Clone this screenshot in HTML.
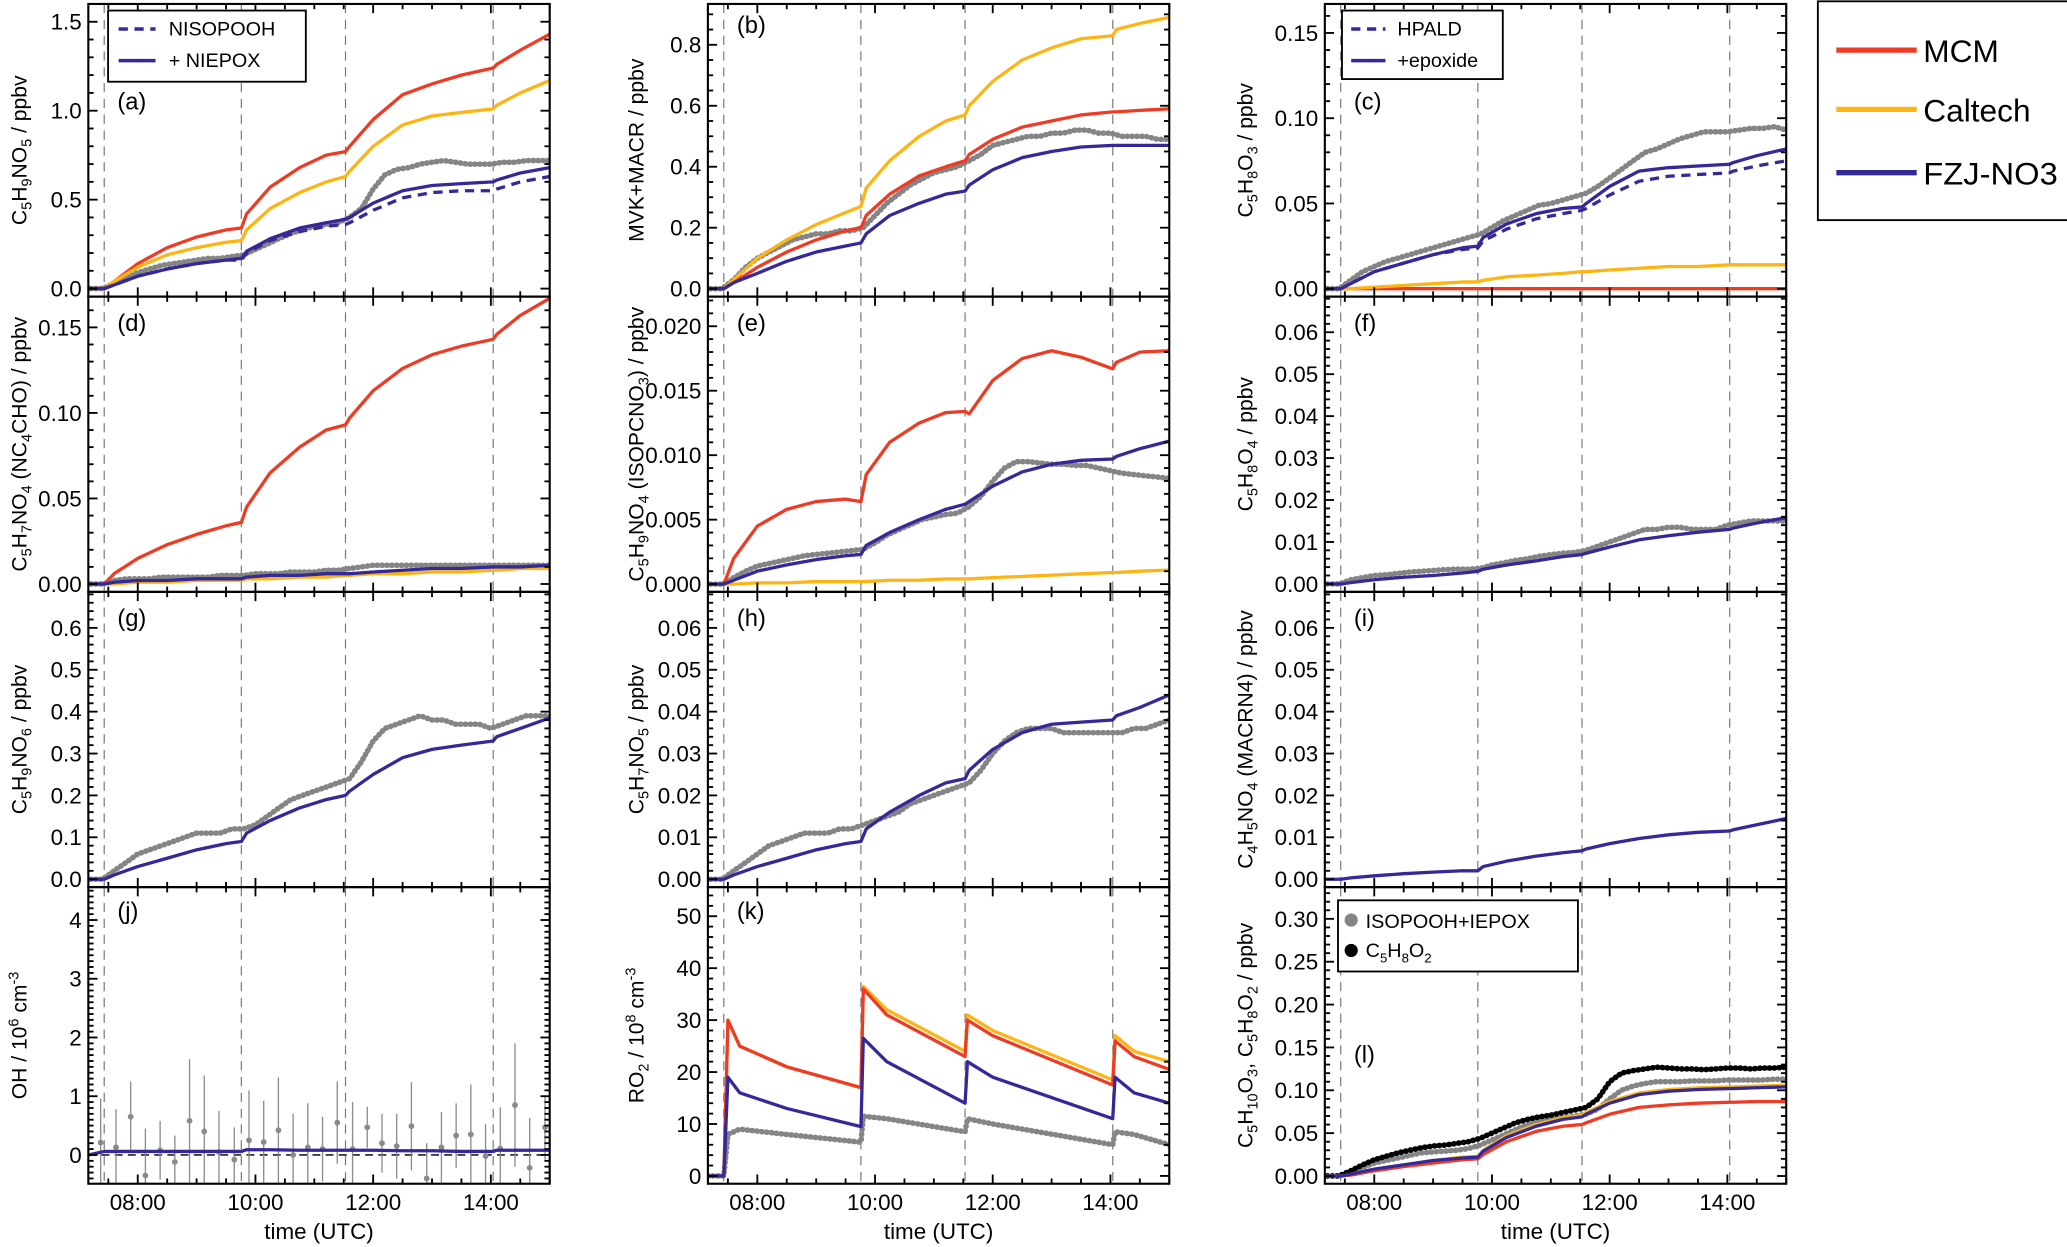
<!DOCTYPE html>
<html><head><meta charset="utf-8"><style>
html,body{margin:0;padding:0;background:#fff;}
svg{display:block;font-family:"Liberation Sans",sans-serif;}
</style></head><body>
<svg id="fig" width="2067" height="1247" viewBox="0 0 1568 946" preserveAspectRatio="none" xmlns="http://www.w3.org/2000/svg"></svg>
<script>
// ---- data ----
const T_MODEL=[7.16,7.43,7.6,8.0,8.5,9.0,9.5,9.76,9.85,10.25,10.75,11.2,11.53,11.6,12.0,12.5,13.0,13.5,14.04,14.1,14.5,15.0];
const OBS_T=[7.2,7.4,7.6,7.8,8.0,8.2,8.4,8.6,8.8,9.0,9.2,9.4,9.6,9.8,10.0,10.2,10.4,10.6,10.8,11.0,11.2,11.4,11.6,11.8,12.0,12.2,12.4,12.6,12.8,13.0,13.2,13.4,13.6,13.8,14.0,14.2,14.4,14.6,14.8,15.0];
const a_mcm=[0,0,0.04,0.14,0.23,0.29,0.33,0.34,0.42,0.57,0.68,0.75,0.77,0.80,0.95,1.09,1.15,1.20,1.24,1.26,1.34,1.43];
const a_cal=[0,0,0.04,0.12,0.19,0.23,0.26,0.27,0.33,0.45,0.54,0.60,0.63,0.66,0.80,0.92,0.97,0.99,1.01,1.03,1.10,1.17];
const a_fzj=[0,0,0.02,0.07,0.11,0.14,0.16,0.17,0.21,0.28,0.34,0.37,0.39,0.40,0.48,0.55,0.58,0.59,0.60,0.61,0.65,0.68];
const a_fzjd=[0,0,0.02,0.07,0.11,0.14,0.16,0.16,0.20,0.27,0.32,0.35,0.36,0.37,0.44,0.51,0.54,0.55,0.55,0.56,0.60,0.63];
const a_obs=[0,0,0.03,0.06,0.09,0.11,0.13,0.14,0.15,0.16,0.17,0.17,0.18,0.19,0.22,0.25,0.28,0.31,0.33,0.35,0.36,0.37,0.40,0.45,0.56,0.64,0.67,0.68,0.70,0.71,0.72,0.71,0.70,0.70,0.70,0.71,0.71,0.72,0.72,0.72];
const b_mcm=[0,0,0.02,0.07,0.12,0.16,0.19,0.20,0.24,0.31,0.37,0.40,0.42,0.44,0.49,0.53,0.55,0.57,0.58,0.58,0.585,0.59];
const b_cal=[0,0,0.03,0.10,0.16,0.21,0.25,0.27,0.33,0.42,0.50,0.55,0.57,0.60,0.68,0.75,0.79,0.82,0.83,0.85,0.87,0.89];
const b_fzj=[0,0,0.02,0.05,0.09,0.12,0.14,0.15,0.18,0.24,0.28,0.31,0.32,0.34,0.39,0.43,0.45,0.465,0.47,0.47,0.47,0.47];
const b_obs=[0,0,0.03,0.07,0.10,0.12,0.14,0.16,0.17,0.18,0.18,0.19,0.19,0.20,0.24,0.28,0.31,0.34,0.36,0.38,0.39,0.40,0.42,0.44,0.47,0.48,0.49,0.50,0.50,0.51,0.51,0.52,0.52,0.51,0.51,0.50,0.50,0.50,0.49,0.49];
const c_mcm=[0,0,0,0,0,0,0,0,0,0,0,0,0,0,0,0,0,0,0,0,0,0];
const c_cal=[0,0,0,0.001,0.002,0.003,0.004,0.004,0.005,0.007,0.008,0.009,0.010,0.010,0.011,0.012,0.013,0.013,0.014,0.014,0.014,0.014];
const c_fzj=[0,0,0.003,0.010,0.015,0.020,0.024,0.025,0.030,0.038,0.044,0.047,0.048,0.050,0.060,0.069,0.071,0.072,0.073,0.074,0.078,0.082];
const c_fzjd=[0,0,0.003,0.010,0.015,0.020,0.023,0.024,0.028,0.035,0.041,0.044,0.046,0.047,0.055,0.063,0.066,0.067,0.068,0.069,0.072,0.075];
const c_obs=[0,0,0.005,0.010,0.013,0.016,0.018,0.020,0.022,0.024,0.026,0.028,0.030,0.032,0.036,0.040,0.043,0.046,0.049,0.050,0.052,0.054,0.056,0.060,0.065,0.070,0.075,0.080,0.082,0.085,0.088,0.090,0.092,0.092,0.092,0.093,0.094,0.094,0.095,0.093];
const d_mcm=[0,0,0.006,0.015,0.023,0.029,0.034,0.036,0.045,0.065,0.080,0.090,0.093,0.097,0.113,0.126,0.134,0.139,0.143,0.146,0.157,0.167];
const d_cal=[0,0,0,0.001,0.001,0.002,0.002,0.002,0.003,0.003,0.004,0.004,0.005,0.005,0.006,0.006,0.007,0.007,0.008,0.008,0.009,0.009];
const d_fzj=[0,0,0.001,0.002,0.002,0.003,0.003,0.003,0.004,0.005,0.005,0.006,0.006,0.006,0.007,0.008,0.009,0.009,0.010,0.010,0.010,0.011];
const d_obs=[0,0,0.002,0.003,0.003,0.003,0.004,0.004,0.004,0.004,0.004,0.005,0.005,0.005,0.006,0.006,0.006,0.007,0.007,0.007,0.008,0.008,0.009,0.010,0.011,0.011,0.011,0.011,0.011,0.011,0.011,0.011,0.011,0.011,0.011,0.011,0.011,0.011,0.011,0.011];
const e_mcm=[0,0,0.002,0.0045,0.0058,0.0064,0.0066,0.0064,0.0085,0.0110,0.0125,0.0133,0.0134,0.0132,0.0158,0.0175,0.0181,0.0176,0.0167,0.0172,0.0180,0.0181];
const e_cal=[0,0,0,0.0001,0.0001,0.0002,0.0002,0.0002,0.0002,0.0003,0.0003,0.0004,0.0004,0.0004,0.0005,0.0006,0.0007,0.0008,0.0009,0.0009,0.0010,0.0011];
const e_fzj=[0,0,0.0003,0.0010,0.0015,0.0019,0.0022,0.0023,0.0030,0.0040,0.0050,0.0058,0.0062,0.0064,0.0076,0.0087,0.0093,0.0096,0.0097,0.0099,0.0105,0.0111];
const e_obs=[0,0,0.0005,0.0010,0.0014,0.0016,0.0018,0.0020,0.0022,0.0023,0.0024,0.0025,0.0026,0.0027,0.0032,0.0038,0.0042,0.0046,0.0050,0.0052,0.0054,0.0055,0.0060,0.0068,0.0080,0.0090,0.0095,0.0095,0.0094,0.0093,0.0093,0.0092,0.0092,0.0090,0.0088,0.0086,0.0085,0.0084,0.0083,0.0082];
const f_fzj=[0,0,0.0003,0.001,0.0016,0.002,0.0026,0.003,0.0035,0.0045,0.0055,0.0065,0.007,0.0073,0.0088,0.0105,0.0115,0.0123,0.013,0.0133,0.0145,0.0158];
const f_obs=[0,0,0.001,0.0015,0.002,0.0022,0.0025,0.0028,0.003,0.0032,0.0034,0.0035,0.0035,0.0037,0.0045,0.005,0.0056,0.006,0.0066,0.007,0.0073,0.0075,0.008,0.009,0.010,0.011,0.012,0.013,0.013,0.0135,0.0135,0.013,0.013,0.013,0.014,0.0145,0.015,0.015,0.015,0.015];
const g_fzj=[0,0,0.01,0.03,0.05,0.07,0.085,0.09,0.11,0.14,0.17,0.19,0.20,0.21,0.25,0.29,0.31,0.32,0.33,0.34,0.36,0.385];
const g_obs=[0,0,0.02,0.04,0.06,0.07,0.08,0.09,0.10,0.11,0.11,0.11,0.12,0.12,0.13,0.15,0.17,0.19,0.20,0.21,0.22,0.23,0.24,0.28,0.33,0.36,0.37,0.38,0.39,0.38,0.38,0.37,0.37,0.37,0.36,0.37,0.38,0.39,0.39,0.39];
const h_fzj=[0,0,0.001,0.003,0.005,0.007,0.0085,0.009,0.012,0.016,0.020,0.023,0.024,0.026,0.031,0.035,0.037,0.0375,0.038,0.039,0.041,0.044];
const h_obs=[0,0,0.002,0.004,0.006,0.008,0.009,0.010,0.011,0.011,0.011,0.012,0.012,0.013,0.014,0.015,0.016,0.018,0.019,0.020,0.021,0.022,0.023,0.026,0.030,0.033,0.035,0.036,0.036,0.036,0.035,0.035,0.035,0.035,0.035,0.035,0.036,0.036,0.037,0.038];
const i_fzj=[0,0,0.0003,0.0008,0.0013,0.0017,0.002,0.002,0.003,0.0043,0.0055,0.0063,0.0068,0.0072,0.0085,0.0097,0.0106,0.0112,0.0115,0.0118,0.013,0.0145];
const j_fzj=[0,0.06,0.06,0.06,0.06,0.06,0.06,0.06,0.09,0.09,0.08,0.08,0.08,0.08,0.08,0.07,0.07,0.06,0.06,0.08,0.08,0.08];
const OH_T=[7.37,7.63,7.88,8.13,8.38,8.63,8.88,9.13,9.38,9.64,9.89,10.14,10.39,10.64,10.89,11.14,11.39,11.65,11.90,12.15,12.40,12.65,12.91,13.16,13.41,13.66,13.91,14.16,14.41,14.66,14.92];
const OH_V=[0.21,0.13,0.65,-0.35,0.08,-0.12,0.58,0.40,0.05,-0.08,0.25,0.22,0.42,0.0,0.13,0.10,0.55,0.10,0.47,0.20,0.15,0.49,-0.40,0.13,0.33,0.35,-0.02,0.11,0.85,-0.22,0.47];
const OH_E=[0.75,0.65,0.6,0.8,0.5,0.45,1.05,0.95,0.7,0.55,0.85,0.7,0.9,0.7,0.75,0.55,0.7,0.8,0.35,0.5,0.55,0.75,0.6,0.6,0.55,0.85,0.55,0.7,1.05,0.85,0.55];
const K_T=[7.16,7.43,7.5,7.7,8.5,9.76,9.8,10.2,11.53,11.57,12.0,14.04,14.08,14.4,15.0];
const k_cal=[0,0,30,25,21,17,36.5,32,24,31,28,18.5,27,24,22];
const k_mcm=[0,0,30,25,21,17,36,31,23,30,27,17.5,26,23,20.5];
const k_fzj=[0,0,19,16,13,9.5,26.5,22,14,22,19,11,19,16,14];
const k_obs=[0,0,8,9,8,6.5,11.5,11,8.5,11,10,6,8.5,8,6];
const l_mcm=[0,0,0.001,0.006,0.011,0.015,0.019,0.020,0.025,0.040,0.052,0.058,0.060,0.062,0.072,0.080,0.083,0.085,0.086,0.086,0.087,0.087];
const l_cal=[0,0,0.002,0.008,0.013,0.018,0.022,0.023,0.030,0.047,0.060,0.068,0.071,0.074,0.087,0.097,0.101,0.103,0.104,0.104,0.105,0.106];
const l_fzj=[0,0,0.002,0.008,0.013,0.018,0.021,0.022,0.029,0.045,0.058,0.066,0.069,0.072,0.085,0.095,0.099,0.101,0.102,0.102,0.103,0.104];
const l_obs=[0,0,0.004,0.010,0.015,0.018,0.021,0.024,0.027,0.028,0.029,0.030,0.032,0.036,0.042,0.048,0.054,0.060,0.064,0.066,0.068,0.070,0.072,0.078,0.090,0.100,0.105,0.108,0.110,0.110,0.110,0.111,0.111,0.111,0.112,0.112,0.112,0.112,0.113,0.113];
const l_obs2=[0,0,0.006,0.013,0.019,0.023,0.027,0.030,0.033,0.035,0.036,0.038,0.040,0.044,0.050,0.056,0.062,0.066,0.069,0.071,0.074,0.077,0.080,0.090,0.110,0.120,0.123,0.125,0.127,0.126,0.125,0.125,0.124,0.125,0.126,0.126,0.125,0.126,0.126,0.127];
const X_TICKS=[8,10,12,14];
const X_TICK_LABELS=["08:00","10:00","12:00","14:00"];
const PHASE_LINES=[7.43,9.76,11.53,14.04];

// ---- layout ----
const RED="#ee3b24",ORG="#fcb514",BLU="#35299a",GRY="#858585";
const T0=7.16,T1=15.0;
const COLX=[67,537,1005],ROWY=[3,225,449,673],PW=350,PH=[222,224,224,225];
const svg=document.getElementById('fig');
const NS="http://www.w3.org/2000/svg";
function mk(tag,attrs,parent){const e=document.createElementNS(NS,tag);for(const k in attrs)e.setAttribute(k,attrs[k]);(parent||svg).appendChild(e);return e;}

const panels=[
 {id:'a',c:0,r:0,y0:-0.045,y1:1.6,st:0.5,mn:0.1,dec:1,lab:[80],title:[["C"],["5","s"],["H"],["9","s"],["NO"],["5","s"],[" / ppbv"]],
  series:[[T_MODEL,a_mcm,RED,0],[T_MODEL,a_cal,ORG,0],[T_MODEL,a_fzj,BLU,0],[T_MODEL,a_fzjd,BLU,1]],obs:[a_obs]},
 {id:'b',c:1,r:0,y0:-0.026,y1:0.934,st:0.2,mn:0.05,dec:1,lab:[22],title:[["MVK+MACR / ppbv"]],
  series:[[T_MODEL,b_cal,ORG,0],[T_MODEL,b_mcm,RED,0],[T_MODEL,b_fzj,BLU,0]],obs:[b_obs]},
 {id:'c',c:2,r:0,y0:-0.0046,y1:0.167,st:0.05,mn:0.01,dec:2,lab:[80],title:[["C"],["5","s"],["H"],["8","s"],["O"],["3","s"],[" / ppbv"]],
  series:[[T_MODEL,c_mcm,RED,0],[T_MODEL,c_cal,ORG,0],[T_MODEL,c_fzj,BLU,0],[T_MODEL,c_fzjd,BLU,1]],obs:[c_obs]},
 {id:'d',c:0,r:1,y0:-0.0046,y1:0.168,st:0.05,mn:0.01,dec:2,lab:[26],title:[["C"],["5","s"],["H"],["7","s"],["NO"],["4","s"],[" (NC"],["4","s"],["CHO) / ppbv"]],
  series:[[T_MODEL,d_mcm,RED,0],[T_MODEL,d_cal,ORG,0],[T_MODEL,d_fzj,BLU,0]],obs:[d_obs]},
 {id:'e',c:1,r:1,y0:-0.0006,y1:0.0223,st:0.005,mn:0.001,dec:3,lab:[26],title:[["C"],["5","s"],["H"],["9","s"],["NO"],["4","s"],[" (ISOPCNO"],["3","s"],[") / ppbv"]],
  series:[[T_MODEL,e_mcm,RED,0],[T_MODEL,e_cal,ORG,0],[T_MODEL,e_fzj,BLU,0]],obs:[e_obs]},
 {id:'f',c:2,r:1,y0:-0.0019,y1:0.0685,st:0.01,mn:0.002,dec:2,lab:[26],title:[["C"],["5","s"],["H"],["8","s"],["O"],["4","s"],[" / ppbv"]],
  series:[[T_MODEL,f_fzj,BLU,0]],obs:[f_obs]},
 {id:'g',c:0,r:2,y0:-0.019,y1:0.686,st:0.1,mn:0.02,dec:1,lab:[26],title:[["C"],["5","s"],["H"],["9","s"],["NO"],["6","s"],[" / ppbv"]],
  series:[[T_MODEL,g_fzj,BLU,0]],obs:[g_obs]},
 {id:'h',c:1,r:2,y0:-0.0019,y1:0.0686,st:0.01,mn:0.002,dec:2,lab:[26],title:[["C"],["5","s"],["H"],["7","s"],["NO"],["5","s"],[" / ppbv"]],
  series:[[T_MODEL,h_fzj,BLU,0]],obs:[h_obs]},
 {id:'i',c:2,r:2,y0:-0.0019,y1:0.0686,st:0.01,mn:0.002,dec:2,lab:[26],title:[["C"],["4","s"],["H"],["5","s"],["NO"],["4","s"],[" (MACRN4) / ppbv"]],
  series:[[T_MODEL,i_fzj,BLU,0]],obs:[]},
 {id:'j',c:0,r:3,y0:-0.49,y1:4.56,st:1,mn:0.1,dec:0,lab:[24],title:[["OH / 10"],["6","p"],[" cm"],["-3","p"]],
  series:[[T_MODEL,j_fzj,BLU,0]],obs:[],oh:true},
 {id:'k',c:1,r:3,y0:-1.5,y1:55.6,st:10,mn:2,dec:0,lab:[24],title:[["RO"],["2","s"],[" / 10"],["8","p"],[" cm"],["-3","p"]],
  series:[[K_T,k_cal,ORG,0],[K_T,k_mcm,RED,0],[K_T,k_fzj,BLU,0]],obs:[],kobs:true},
 {id:'l',c:2,r:3,y0:-0.009,y1:0.337,st:0.05,mn:0.01,dec:2,lab:[133],title:[["C"],["5","s"],["H"],["10","s"],["O"],["3","s"],[", C"],["5","s"],["H"],["8","s"],["O"],["2","s"],[" / ppbv"]],
  series:[[T_MODEL,l_mcm,RED,0],[T_MODEL,l_cal,ORG,0],[T_MODEL,l_fzj,BLU,0]],obs:[l_obs],obs2:l_obs2}
];

function drawObs(g,xs,ys,sx,sy,color,name){
  const pts=xs.map((t,i)=>sx(t).toFixed(1)+','+sy(ys[i]).toFixed(1)).join(' ');
  const p=mk('polyline',{points:pts,fill:'none',stroke:color,'stroke-width':4.2,'stroke-linecap':'round','stroke-linejoin':'round','stroke-dasharray':'0.5 3.2'},g);
  
  
  const p2=mk('polyline',{points:pts,fill:'none',stroke:color,'stroke-width':2,'stroke-linejoin':'round','opacity':0.8},g);
  
  
}

panels.forEach(P=>{
  const L=COLX[P.c],T=ROWY[P.r],H=PH[P.r],R=L+PW,B=T+H;
  const sx=t=>L+(t-T0)/(T1-T0)*PW;
  const sy=v=>B-(v-P.y0)/(P.y1-P.y0)*H;
  const g=mk('g',{});
  
  
  const cp=mk('clipPath',{id:'cp'+P.id},g);
  mk('rect',{x:L,y:T,width:PW,height:H},cp);
  PHASE_LINES.forEach(t=>{
    const ln=mk('line',{x1:sx(t),x2:sx(t),y1:T,y2:B,stroke:'#777','stroke-width':0.9,'stroke-dasharray':'7 5'},g);
    
    
  });
  const pg=mk('g',{'clip-path':'url(#cp'+P.id+')'},g);
  if(P.oh){
    const z=mk('line',{x1:L,x2:R,y1:sy(0),y2:sy(0),stroke:'#222','stroke-width':1.2,'stroke-dasharray':'6 4'},pg);
    
    
    OH_T.forEach((t,i)=>{
      const eb=mk('line',{x1:sx(t),x2:sx(t),y1:sy(OH_V[i]-OH_E[i]),y2:sy(OH_V[i]+OH_E[i]),stroke:'#8a8a8a','stroke-width':1},pg);
      
      
      const dt=mk('circle',{cx:sx(t),cy:sy(OH_V[i]),r:2.2,fill:'#8a8a8a'},pg);
      
      
    });
  }
  P.obs.forEach(o=>drawObs(pg,OBS_T,o,sx,sy,GRY,'measurement-'+P.id));
  if(P.kobs) drawObs(pg,K_T,k_obs,sx,sy,GRY,'measurement-k');
  if(P.obs2) drawObs(pg,OBS_T,P.obs2,sx,sy,'#000','measurement-c5h8o2');
  P.series.forEach(s=>{
    const pts=s[0].map((t,i)=>sx(t).toFixed(1)+','+sy(s[1][i]).toFixed(1)).join(' ');
    const a={points:pts,fill:'none',stroke:s[2],'stroke-width':2.5,'stroke-linejoin':'round'};
    if(s[3])a['stroke-dasharray']='7 5';
    const pl=mk('polyline',a,pg);
    
    
  });
  const fr=mk('rect',{x:L,y:T,width:PW,height:H,fill:'none',stroke:'#000','stroke-width':1.6},g);
  
  
  for(let t=7.5;t<=15.001;t+=0.5){
    const major=Math.abs(t/2-Math.round(t/2))<1e-6;
    const len=major?7:4;
    mk('line',{x1:sx(t),x2:sx(t),y1:B,y2:B-len,stroke:'#000','stroke-width':1.4},g);
    mk('line',{x1:sx(t),x2:sx(t),y1:T,y2:T+len,stroke:'#000','stroke-width':1.4},g);
  }
  const n0=Math.ceil(P.y0/P.mn-1e-6),n1=Math.floor(P.y1/P.mn+1e-6);
  for(let n=n0;n<=n1;n++){
    const v=n*P.mn;const major=Math.abs(v/P.st-Math.round(v/P.st))<1e-6;
    const len=major?7:4;const y=sy(v);
    mk('line',{x1:L,x2:L+len,y1:y,y2:y,stroke:'#000','stroke-width':1.4},g);
    mk('line',{x1:R,x2:R-len,y1:y,y2:y,stroke:'#000','stroke-width':1.4},g);
  }
  for(let v=0;v<=P.y1+1e-9;v+=P.st){
    const tl=mk('text',{x:L-5,y:sy(v)+6,'text-anchor':'end','font-size':17},g);
    tl.textContent=v.toFixed(P.dec);
    
    
  }
  const pl=mk('text',{x:L+22,y:T+P.lab[0],'font-size':18},g);
  pl.textContent='('+P.id+')';
  
  
  const tx=L-(P.c==0?47:P.c==1?49:55),ty=T+H/2;
  const yt=mk('text',{x:0,y:0,'text-anchor':'middle','font-size':16,transform:'translate('+tx+','+ty+') rotate(-90)'},g);
  
  
  let shift=0;
  P.title.forEach(seg=>{
    const ts=document.createElementNS(NS,'tspan');
    let d=0;
    if(seg[1]=='s'){d=4;ts.setAttribute('font-size',11);}
    else if(seg[1]=='p'){d=-6;ts.setAttribute('font-size',11);}
    ts.setAttribute('dy',(d-shift));shift=d;
    ts.textContent=seg[0];yt.appendChild(ts);
  });
  if(P.r==3){
    X_TICKS.forEach((t,i)=>{
      const xl=mk('text',{x:sx(t),y:B+20,'text-anchor':'middle','font-size':17},g);
      xl.textContent=X_TICK_LABELS[i];
      
      
    });
    const xt=mk('text',{x:L+PW/2,y:B+42,'text-anchor':'middle','font-size':17},g);
    xt.textContent='time (UTC)';
    
    
  }
});

function legendBox(x,y,w,h,name){const r=mk('rect',{x:x,y:y,width:w,height:h,fill:'#fff',stroke:'#000','stroke-width':1.4});}
legendBox(82,8,150,54,'legend-a');
let e1=mk('line',{x1:90,x2:118,y1:22,y2:22,stroke:BLU,'stroke-width':2.6,'stroke-dasharray':'7 5'});


let e2=mk('line',{x1:90,x2:118,y1:46,y2:46,stroke:BLU,'stroke-width':2.6});


let t1=mk('text',{x:128,y:27,'font-size':15});t1.textContent='NISOPOOH';


let t2=mk('text',{x:128,y:51,'font-size':15});t2.textContent='+ NIEPOX';



legendBox(1018,8,122,52,'legend-c');
let e3=mk('line',{x1:1025,x2:1051,y1:22,y2:22,stroke:BLU,'stroke-width':2.6,'stroke-dasharray':'7 5'});


let e4=mk('line',{x1:1025,x2:1051,y1:46,y2:46,stroke:BLU,'stroke-width':2.6});


let t3=mk('text',{x:1060,y:27,'font-size':15});t3.textContent='HPALD';


let t4=mk('text',{x:1060,y:51,'font-size':15});t4.textContent='+epoxide';



legendBox(1015,683,182,54,'legend-l');
let c1=mk('circle',{cx:1025,cy:698,r:5,fill:GRY});


let c2=mk('circle',{cx:1025,cy:721,r:5,fill:'#000'});


let t5=mk('text',{x:1036,y:704,'font-size':15});t5.textContent='ISOPOOH+IEPOX';


let t6=mk('text',{x:1036,y:726,'font-size':15});
t6.innerHTML='C<tspan font-size="10" dy="4">5</tspan><tspan dy="-4">H</tspan><tspan font-size="10" dy="4">8</tspan><tspan dy="-4">O</tspan><tspan font-size="10" dy="4">2</tspan>';



legendBox(1379,1,192,166,'legend-models');
const ML=[["MCM",RED,38,0],["Caltech",ORG,83,0],["FZJ-NO3",BLU,131,102]];
ML.forEach(m=>{
  const l=mk('line',{x1:1393,x2:1454,y1:m[2],y2:m[2],stroke:m[1],'stroke-width':4});
  
  
  const t=mk('text',{x:1459,y:m[2]+9,'font-size':24});
  if(m[3]){t.setAttribute('textLength',m[3]);t.setAttribute('lengthAdjust','spacingAndGlyphs');}
  t.textContent=m[0];
  
  
});
</script>
</body></html>
